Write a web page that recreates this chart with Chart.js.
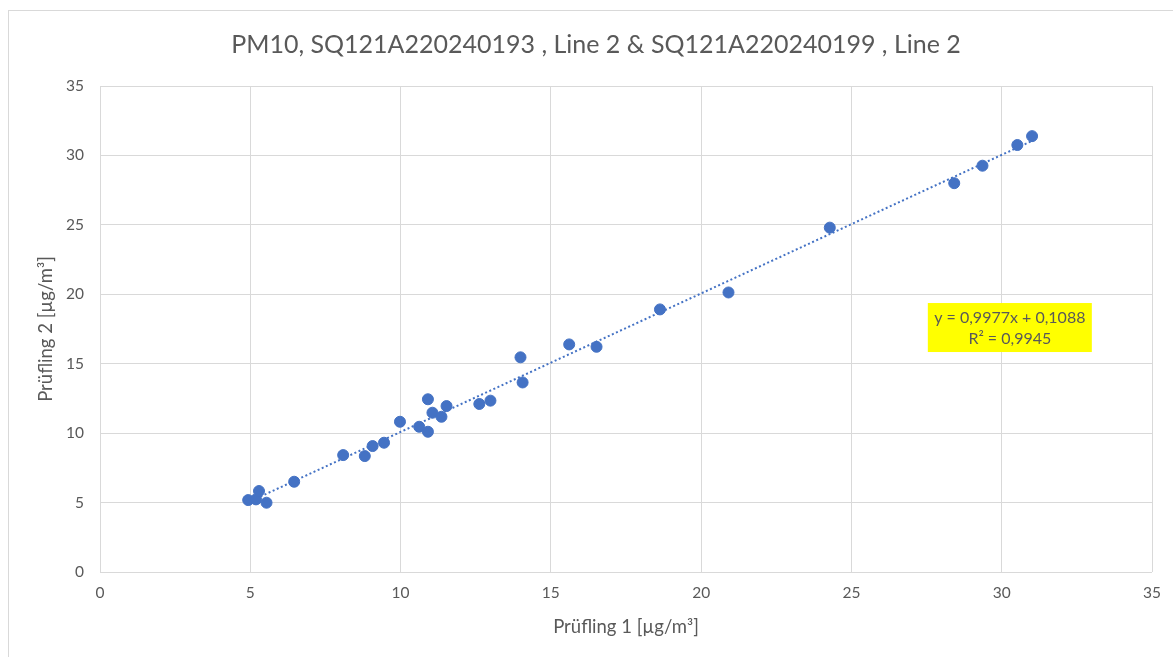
<!DOCTYPE html>
<html>
<head>
<meta charset="utf-8">
<script src="https://cdn.jsdelivr.net/npm/chart.js@4.4.1/dist/chart.umd.min.js"></script>
<style>
  html, body { margin: 0; padding: 0; background: #fff; }
  #wrap { width: 1173px; height: 657px; position: relative; }
</style>
</head>
<body>
<div id="wrap"><canvas id="chart" width="1173" height="657"></canvas></div>
<script>
const pruefling1 = [4.93, 5.19, 5.29, 5.54, 6.46, 8.09, 8.81, 9.07, 9.45, 9.98,
  10.62, 10.91, 10.91, 11.06, 11.36, 11.53, 12.62, 12.99, 13.99, 14.06,
  15.61, 16.52, 18.63, 20.91, 24.28, 28.42, 29.36, 30.52, 31.01];
const pruefling2 = [5.18, 5.23, 5.83, 4.99, 6.50, 8.42, 8.35, 9.07, 9.31, 10.82,
  10.46, 10.10, 12.44, 11.47, 11.18, 11.95, 12.10, 12.34, 15.46, 13.65,
  16.39, 16.22, 18.91, 20.13, 24.80, 28.00, 29.26, 30.75, 31.39];

// Trendlinie (lineare Regression laut Beschriftung)
const trendSlope = 0.9977;
const trendIntercept = 0.1088;
const trendLabel = ['y = 0,9977x + 0,1088', 'R² = 0,9945'];

const axisTicks = [0, 5, 10, 15, 20, 25, 30, 35];

const fontFamily = 'Lato, "Open Sans", sans-serif';
const grey = '#595959';
const blue = '#4472C4';

const points = pruefling1.map((x, i) => ({ x: x, y: pruefling2[i] }));
const xMin = Math.min(...pruefling1);
const xMax = Math.max(...pruefling1);
const trendPoints = [xMin, xMax].map(x => ({ x: x, y: trendSlope * x + trendIntercept }));

// Rahmen, Titel und Gleichungsfeld
const decorations = {
  id: 'decorations',
  beforeDraw(chart) {
    const ctx = chart.ctx;
    ctx.save();
    ctx.fillStyle = '#fff';
    ctx.fillRect(0, 0, chart.width, chart.height);
    ctx.strokeStyle = '#d9d9d9';
    ctx.lineWidth = 1;
    ctx.strokeRect(8.5, 10.5, chart.width + 20, chart.height + 20);
    ctx.fillStyle = grey;
    ctx.font = '25px ' + fontFamily;
    ctx.textAlign = 'center';
    ctx.textBaseline = 'middle';
    ctx.fillText('PM10, SQ121A220240193 , Line 2 & SQ121A220240199 , Line 2', 596, 45);
    ctx.restore();
  },
  afterDatasetsDraw(chart) {
    const ctx = chart.ctx;
    const cx = chart.scales.x.getPixelForValue(30.27);
    const cy = chart.scales.y.getPixelForValue(17.57);
    ctx.save();
    ctx.fillStyle = '#ffff00';
    ctx.fillRect(cx - 82, cy - 25, 164, 49);
    ctx.fillStyle = grey;
    ctx.font = '16px ' + fontFamily;
    ctx.textAlign = 'center';
    ctx.textBaseline = 'middle';
    ctx.fillText(trendLabel[0], cx, cy - 10);
    ctx.fillText(trendLabel[1], cx, cy + 11);
    ctx.restore();
  }
};

new Chart(document.getElementById('chart'), {
  type: 'scatter',
  data: {
    datasets: [{
      label: 'Messwerte',
      data: points,
      backgroundColor: blue,
      borderColor: blue,
      pointRadius: 5.5,
      pointHoverRadius: 5.5,
      order: 1
    }, {
      label: 'Trend',
      type: 'line',
      data: trendPoints,
      borderColor: blue,
      borderWidth: 2,
      borderDash: [2, 2.5],
      pointRadius: 0,
      fill: false,
      order: 2
    }]
  },
  options: {
    responsive: false,
    devicePixelRatio: 1,
    animation: false,
    layout: { padding: { left: 0, right: 21, top: 86, bottom: 0 } },
    plugins: {
      legend: { display: false },
      tooltip: { enabled: false }
    },
    scales: {
      x: {
        type: 'linear',
        min: 0,
        max: 35,
        afterBuildTicks: s => { s.ticks = axisTicks.map(v => ({ value: v })); },
        afterFit: s => { s.height = 85; },
        grid: { color: '#d9d9d9', drawTicks: false },
        border: { display: false },
        ticks: { color: grey, padding: 12, font: { family: fontFamily, size: 15.5 } },
        title: {
          display: true,
          text: 'Prüfling 1 [µg/m³]',
          color: grey,
          font: { family: fontFamily, size: 18.5 },
          padding: { top: 0, bottom: 19 }
        }
      },
      y: {
        type: 'linear',
        min: 0,
        max: 35,
        afterBuildTicks: s => { s.ticks = axisTicks.map(v => ({ value: v })); },
        afterFit: s => { s.width = 100; },
        grid: { color: '#d9d9d9', drawTicks: false },
        border: { display: false },
        ticks: { color: grey, padding: 16, font: { family: fontFamily, size: 15.5 } },
        title: {
          display: true,
          text: 'Prüfling 2 [µg/m³]',
          color: grey,
          font: { family: fontFamily, size: 18.5 },
          padding: { top: 35, bottom: 0 }
        }
      }
    }
  },
  plugins: [decorations]
});
</script>
</body>
</html>
